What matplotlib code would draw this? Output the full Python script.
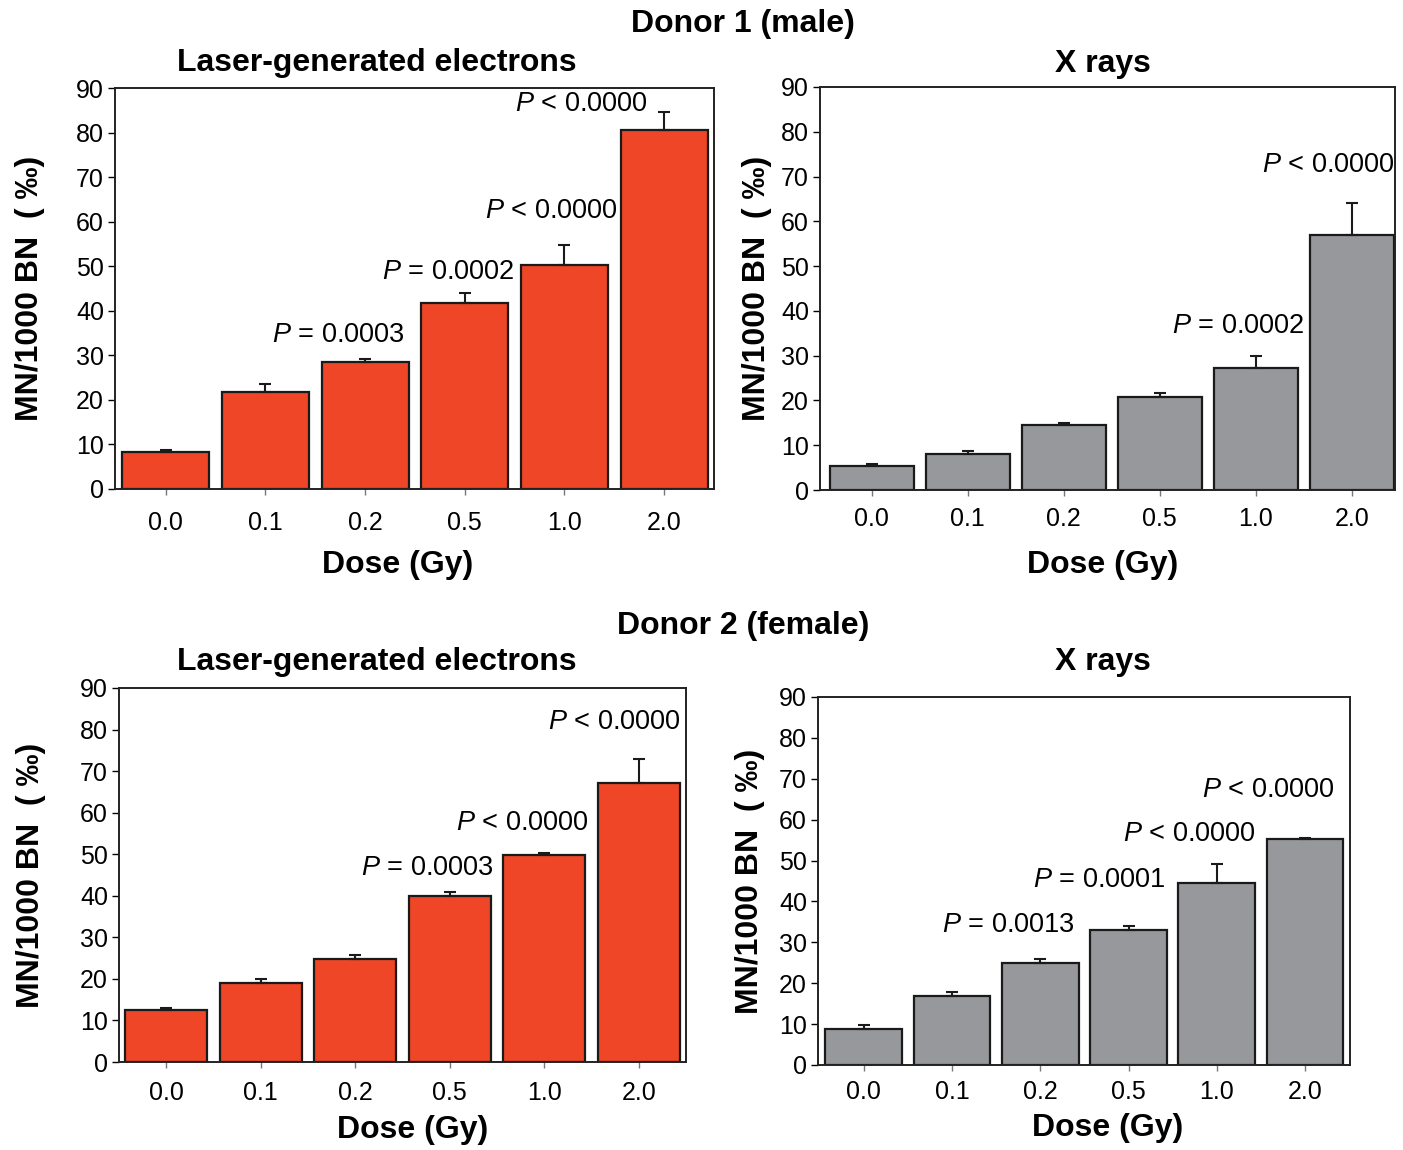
import matplotlib
matplotlib.use('Agg')
import matplotlib.pyplot as plt

plt.rcParams['font.family'] = ['Liberation Sans', 'DejaVu Sans']
plt.rcParams['mathtext.fontset'] = 'custom'
plt.rcParams['mathtext.rm'] = 'Liberation Sans'
plt.rcParams['mathtext.it'] = 'Liberation Sans:italic'

# data
doses = ['0.0', '0.1', '0.2', '0.5', '1.0', '2.0']

d1_laser = [8.2, 21.8, 28.6, 41.8, 50.3, 80.6]
d1_laser_err = [0.5, 1.8, 0.5, 2.2, 4.5, 4.1]
d1_xray = [5.4, 8.1, 14.5, 20.8, 27.2, 57.0]
d1_xray_err = [0.4, 0.5, 0.4, 0.9, 2.7, 7.2]
d2_laser = [12.6, 19.0, 24.8, 39.9, 49.8, 67.1]
d2_laser_err = [0.4, 0.9, 1.0, 0.9, 0.4, 5.9]
d2_xray = [8.8, 16.9, 24.9, 33.0, 44.5, 55.3]
d2_xray_err = [0.9, 0.9, 1.0, 0.9, 4.6, 0.3]

# p-value labels: (x in bar units, y in data units, operator)
d1_laser_p = [(1.73, 34.6, '='), (2.83, 48.7, '='), (3.87, 62.4, '<'), (4.17, 86.4, '<')]
d1_laser_pv = ['0.0003', '0.0002', '0.0000', '0.0000']
d1_xray_p = [(3.82, 36.6, '='), (4.76, 72.6, '<')]
d1_xray_pv = ['0.0002', '0.0000']
d2_laser_p = [(2.76, 46.8, '='), (3.77, 57.6, '<'), (4.74, 81.8, '<')]
d2_laser_pv = ['0.0003', '0.0000', '0.0000']
d2_xray_p = [(1.64, 34.2, '='), (2.67, 45.2, '='), (3.69, 56.5, '<'), (4.59, 67.3, '<')]
d2_xray_pv = ['0.0013', '0.0001', '0.0000', '0.0000']

red = '#EE4626'
gray = '#97989B'
W, H = 1403, 1150


def rect(l, r, t, b):
    return [l / W, 1 - b / H, (r - l) / W, (b - t) / H]


def panel(fig, pos, xlim, vals, errs, color, plabels, pvals, ylab_x, xlab_xy, xpad):
    ax = fig.add_axes(rect(*pos))
    x = list(range(len(doses)))
    ax.bar(x, vals, width=0.87, color=color, edgecolor='#1a1a1a', linewidth=1.6,
           yerr=[[0] * len(errs), errs], capsize=4,
           error_kw=dict(ecolor='#1a1a1a', elinewidth=1.5, capthick=1.5), zorder=2)
    ax.set_xlim(*xlim)
    ax.set_ylim(0, 90)
    ax.set_yticks(range(0, 91, 10))
    ax.set_xticks(x)
    ax.set_xticklabels(doses)
    ax.tick_params(axis='y', direction='out', length=5, width=1, labelsize=18, pad=3)
    ax.tick_params(axis='x', direction='out', length=4, width=1, color='#777777',
                   labelsize=18, pad=xpad)
    for s in ax.spines.values():
        s.set_linewidth(1.4)
        s.set_color('#222222')
    ax.set_xlabel('Dose (Gy)', fontsize=23, fontweight='bold', va='center')
    ax.xaxis.set_label_coords(*xlab_xy)
    ax.set_ylabel('MN/1000 BN  ( ‰)', fontsize=23, fontweight='bold', va='center')
    ax.yaxis.set_label_coords(ylab_x, 0.5)
    for (px, py, op), pv in zip(plabels, pvals):
        ax.text(px, py, '$P$ ' + op + ' ' + pv, fontsize=19.5, ha='center', va='center')
    return ax


fig = plt.figure(figsize=(W / 100, H / 100), dpi=100)

panel(fig, (115, 714, 88, 489), (-0.51, 5.5), d1_laser, d1_laser_err, red,
      d1_laser_p, d1_laser_pv, -0.142, (0.471, -0.19), 12)
panel(fig, (820, 1395, 87, 490), (-0.54, 5.45), d1_xray, d1_xray_err, gray,
      d1_xray_p, d1_xray_pv, -0.11, (0.492, -0.186), 8)
panel(fig, (119, 686, 688, 1062), (-0.5, 5.5), d2_laser, d2_laser_err, red,
      d2_laser_p, d2_laser_pv, -0.156, (0.517, -0.182), 10)
panel(fig, (818, 1350, 697, 1065), (-0.52, 5.51), d2_xray, d2_xray_err, gray,
      d2_xray_p, d2_xray_pv, -0.128, (0.545, -0.171), 7)

titles = [('Donor 1 (male)', 743, 24), ('Donor 2 (female)', 743, 626),
          ('Laser-generated electrons', 377, 63), ('X rays', 1103, 64),
          ('Laser-generated electrons', 377, 662), ('X rays', 1103, 662)]
for txt, tx, ty in titles:
    fig.text(tx / W, 1 - ty / H, txt, fontsize=23, fontweight='bold',
             ha='center', va='center')

fig.savefig('out.png', dpi=100)
